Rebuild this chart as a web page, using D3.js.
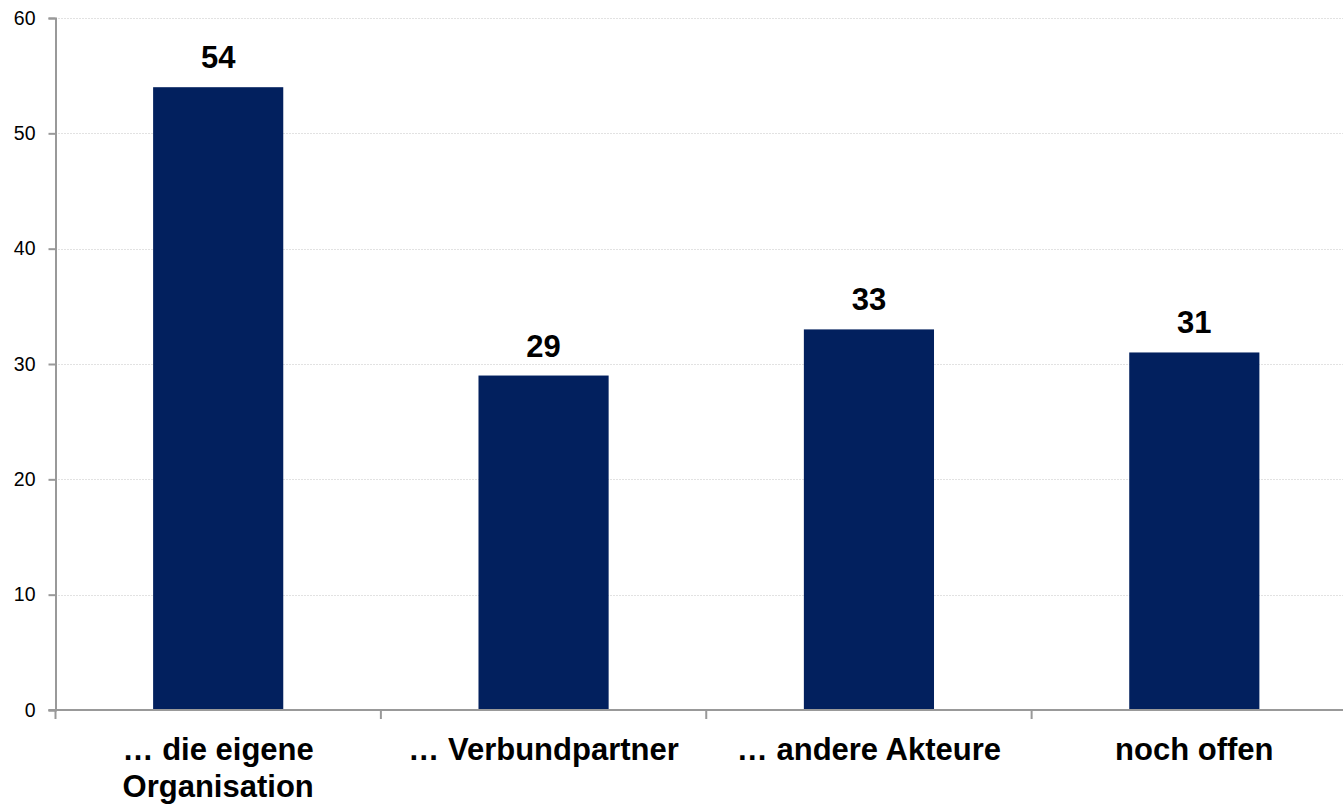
<!DOCTYPE html>
<html>
<head>
<meta charset="utf-8">
<script src="https://cdn.jsdelivr.net/npm/d3@7/dist/d3.min.js"></script>
<style>
  html, body { margin: 0; padding: 0; background: #fff; }
  svg { display: block; font-family: "Liberation Sans", Arial, sans-serif; }
</style>
</head>
<body>
<svg id="chart" width="1343" height="804"></svg>
<script>
// Categories (each entry is a list of label lines) and values
const categories = [
  ["\u2026 die eigene", "Organisation"],
  ["\u2026 Verbundpartner"],
  ["\u2026 andere Akteure"],
  ["noch offen"]
];
const values = [54, 29, 33, 31];
const yTicks = [0, 10, 20, 30, 40, 50, 60];

const svg = d3.select("#chart");
const plotLeft = 55.5, plotRight = 1357, plotTop = 18, plotBottom = 710;

const x = d3.scaleBand()
  .domain(d3.range(categories.length))
  .range([plotLeft, plotRight])
  .padding(0);

const y = d3.scaleLinear()
  .domain([0, 60])
  .range([plotBottom, plotTop]);

// Horizontal dotted gridlines
svg.append("g")
  .selectAll("line")
  .data(yTicks.filter(d => d > 0))
  .join("line")
  .attr("x1", plotLeft)
  .attr("x2", 1343)
  .attr("y1", d => Math.round(y(d)) + 0.5)
  .attr("y2", d => Math.round(y(d)) + 0.5)
  .attr("stroke", "#c4c4c4")
  .attr("stroke-width", 1)
  .attr("stroke-dasharray", "1,2");

// Bars
const barW = x.bandwidth() * 0.4;
svg.append("g")
  .selectAll("rect")
  .data(values)
  .join("rect")
  .attr("x", (d, i) => x(i) + (x.bandwidth() - barW) / 2)
  .attr("y", d => y(d))
  .attr("width", barW)
  .attr("height", d => y(0) - y(d))
  .attr("fill", "#02205e");

// Value labels
svg.append("g")
  .selectAll("text")
  .data(values)
  .join("text")
  .attr("x", (d, i) => x(i) + x.bandwidth() / 2)
  .attr("y", d => y(d) - 19)
  .attr("text-anchor", "middle")
  .attr("font-size", 31)
  .attr("font-weight", "bold")
  .attr("fill", "#000")
  .text(d => d);

// Y axis
const yAxis = d3.axisLeft(y)
  .tickValues(yTicks)
  .tickSize(7)
  .tickPadding(13)
  .tickFormat(d3.format("d"));
const gy = svg.append("g")
  .attr("transform", `translate(${plotLeft},0)`)
  .call(yAxis);
gy.select(".domain").attr("stroke", "#999").attr("stroke-width", 2);
gy.selectAll(".tick line").attr("stroke", "#999").attr("stroke-width", 2);
gy.selectAll(".tick text")
  .attr("font-size", 19.5)
  .attr("font-family", "Liberation Sans, Arial, sans-serif")
  .attr("fill", "#000");

// X axis line with tick marks at category boundaries
const gx = svg.append("g");
gx.append("line")
  .attr("x1", plotLeft - 7).attr("x2", 1343)
  .attr("y1", plotBottom).attr("y2", plotBottom)
  .attr("stroke", "#999").attr("stroke-width", 2);
gx.selectAll("line.tick")
  .data(d3.range(categories.length))
  .join("line")
  .attr("class", "tick")
  .attr("x1", i => x(i)).attr("x2", i => x(i))
  .attr("y1", plotBottom).attr("y2", plotBottom + 9)
  .attr("stroke", "#999").attr("stroke-width", 2);

// Category labels
svg.append("g")
  .selectAll("text")
  .data(categories)
  .join("text")
  .attr("x", (d, i) => x(i) + x.bandwidth() / 2)
  .attr("y", 760)
  .attr("text-anchor", "middle")
  .attr("font-size", 31)
  .attr("font-weight", "bold")
  .attr("fill", "#000")
  .each(function (lines) {
    const t = d3.select(this);
    const cx = t.attr("x");
    lines.forEach((ln, k) => {
      t.append("tspan")
        .attr("x", cx)
        .attr("dy", k === 0 ? 0 : 37)
        .text(ln);
    });
  });
</script>
</body>
</html>
